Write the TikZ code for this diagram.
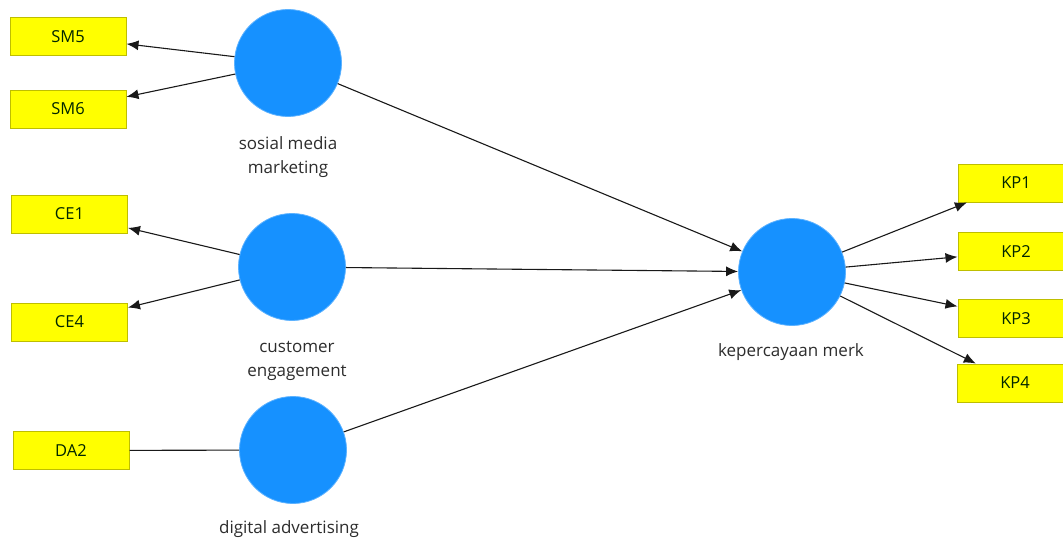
\documentclass[tikz,border=0pt]{standalone}
\usepackage{fontspec}
\setmainfont{Open Sans}
\usetikzlibrary{arrows.meta}
\definecolor{lvblue}{RGB}{22,145,255}
\definecolor{indyel}{RGB}{255,255,0}
\definecolor{indborder}{RGB}{190,190,0}
\definecolor{labgray}{RGB}{45,45,45}
\tikzset{
  lv/.style={circle, fill=lvblue, draw=lvblue!70!white, line width=0.8pt, minimum size=107pt, inner sep=0pt},
  ind/.style={rectangle, fill=indyel, draw=indborder, line width=1pt, minimum width=116pt, minimum height=38pt, inner sep=0pt, font=\fontsize{16.5}{19}\selectfont, text=black!85!green},
  lab/.style={align=center, font=\fontsize{17}{24}\selectfont, text=labgray},
  conn/.style={draw=black!90, line width=1.1pt},
  arr/.style={conn, -{Latex[length=12pt,width=10pt]}}
}
\begin{document}
\begin{tikzpicture}[x=1pt,y=-1pt]
\useasboundingbox (0,0) rectangle (1063,543);
\fill[white] (0,0) rectangle (1063,543);
% latent variables
\node[lv] (sm) at (288,63) {};
\node[lv] (ce) at (292,267) {};
\node[lv] (da) at (293,450) {};
\node[lv] (kp) at (792,272) {};
% labels
\node[lab] (smlab) at (288,157) {sosial media\\marketing};
\node[lab] (celab) at (297,361) {customer\\engagement};
\node[lab] (dalab) at (289,529) {digital advertising};
\node[lab] (kplab) at (791,352) {kepercayaan merk};
% indicators
\node[ind] (sm5) at (68,37) {SM5};
\node[ind] (sm6) at (68,109) {SM6};
\node[ind] (ce1) at (69.5,214) {CE1};
\node[ind] (ce4) at (69.5,322) {CE4};
\node[ind] (da2) at (71,450.5) {DA2};
\node[ind] (kp1) at (1016,183) {KP1};
\node[ind] (kp2) at (1016,251.5) {KP2};
\node[ind] (kp3) at (1016,318.5) {KP3};
\node[ind] (kp4) at (1015,383) {KP4};
% outer model
\draw[arr] (sm) -- (sm5);
\draw[arr] (sm) -- (sm6);
\draw[arr] (ce) -- (ce1);
\draw[arr] (ce) -- (ce4);
\draw[conn] (da) -- (da2);
\draw[arr] (kp) -- (kp1);
\draw[arr] (kp) -- (kp2);
\draw[arr] (kp) -- (kp3);
\draw[arr] (kp) -- (kp4);
% inner model
\draw[arr] (sm) -- (kp);
\draw[arr] (ce) -- (kp);
\draw[arr] (da) -- (kp);
\end{tikzpicture}
\end{document}
